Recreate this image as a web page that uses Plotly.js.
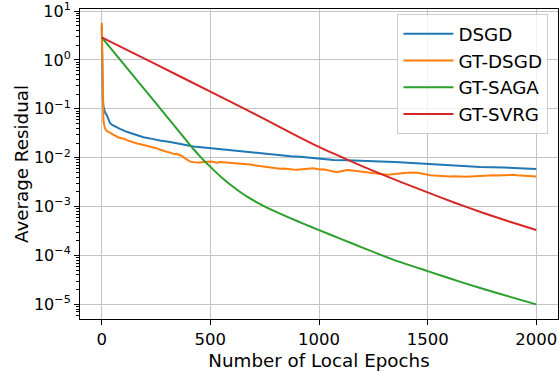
<!DOCTYPE html>
<html>
<head>
<meta charset="utf-8">
<script src="https://cdn.plot.ly/plotly-3.0.1.min.js"></script>
<style>
  html, body { margin: 0; padding: 0; background: #ffffff; }
  #chart { width: 559px; height: 372px; }
</style>
</head>
<body>
<div id="chart"></div>
<script>
// ---- data ----
const seriesNames = ["DSGD", "GT-DSGD", "GT-SAGA", "GT-SVRG"];
const seriesColors = ["#1f77b4", "#ff7f0e", "#2ca02c", "#d62728"];

const dsgdX = [0, 1, 2, 3, 5, 8, 12, 15, 23, 30, 38, 48, 60, 84, 115, 150, 192, 238, 268, 315, 360, 422, 470, 514, 576, 622, 680, 729, 775, 821, 870, 913, 974, 1020, 1067, 1130, 1180, 1230, 1281, 1350, 1435, 1500, 1589, 1650, 1742, 1850, 1920, 2000];
const dsgdY = [5.0, 2.0, 0.6, 0.3, 0.16, 0.112, 0.0933, 0.0851, 0.075, 0.0617, 0.0513, 0.0468, 0.0437, 0.0389, 0.0339, 0.0302, 0.0263, 0.0240, 0.0224, 0.0209, 0.0191, 0.0170, 0.0162, 0.0155, 0.0145, 0.0135, 0.0129, 0.0123, 0.0117, 0.0112, 0.0107, 0.0105, 0.0100, 0.00955, 0.00902, 0.00891, 0.00881, 0.00861, 0.00832, 0.00813, 0.00776, 0.00741, 0.00692, 0.00676, 0.00646, 0.00631, 0.00610, 0.00589];

const gtdsgdX = [0, 1, 2, 3, 5, 8, 11, 15, 22, 30, 38, 48, 60, 75, 90, 102, 115, 128, 140, 150, 162, 175, 192, 205, 218, 230, 243, 255, 268, 280, 292, 305, 315, 325, 335, 345, 355, 363, 372, 382, 391, 400, 407, 418, 430, 440,
  450, 465, 480, 500, 515, 530, 545, 560, 575, 590, 606, 620, 635, 650, 668, 683, 698, 713, 730, 745, 760, 775, 790, 805, 820, 835, 850, 866, 882, 898, 913, 928, 944, 959, 974, 990, 1005, 1020, 1036, 1051, 1067, 1082, 1097, 1113, 1128, 1143, 1159, 1174, 1190, 1205, 1220, 1236, 1251, 1266, 1281, 1297, 1312, 1327, 1343, 1358, 1373, 1389, 1404, 1420, 1435, 1450, 1466, 1481, 1496, 1512, 1527, 1542, 1558, 1573, 1588, 1604, 1619, 1634, 1650, 1665, 1680, 1696, 1711, 1726, 1742, 1757, 1772, 1788, 1803, 1818, 1834, 1849, 1864, 1880, 1895, 1910, 1926, 1941, 1956, 1972, 1987, 2000];
const gtdsgdY = [5.8, 3.0, 0.8, 0.22, 0.12, 0.059, 0.048, 0.0398, 0.0355, 0.0339, 0.0324, 0.0302, 0.0282, 0.0263, 0.0251, 0.0245, 0.0229, 0.0219, 0.0209, 0.0200, 0.0195, 0.0191, 0.0182, 0.0178, 0.0170, 0.0166, 0.0162, 0.0155, 0.0145, 0.0141, 0.0135, 0.0129, 0.0126, 0.0123, 0.01175, 0.0120, 0.0115, 0.0112, 0.0107, 0.00977, 0.00902, 0.00871, 0.00832, 0.00813, 0.00813, 0.00794,
  0.00794, 0.00813, 0.00804, 0.00832, 0.00813, 0.00794, 0.00813, 0.00804, 0.00794, 0.00794, 0.00776, 0.00785, 0.00759, 0.00750, 0.00741, 0.00724, 0.00708, 0.00692, 0.00676, 0.00661, 0.00631, 0.00617, 0.00624, 0.00610, 0.00596, 0.00603, 0.00589, 0.00582, 0.00575, 0.00569, 0.00575, 0.00589, 0.00596, 0.00603, 0.00610, 0.00589, 0.00575, 0.00582, 0.00562, 0.00537, 0.00513, 0.00507, 0.00525, 0.00550, 0.00562, 0.00556, 0.00543, 0.00531, 0.00525, 0.00513, 0.00501, 0.00490, 0.00479, 0.00468, 0.00462, 0.00452, 0.00447, 0.00452, 0.00457, 0.00462, 0.00468, 0.00473, 0.00490, 0.00501, 0.00501, 0.00495, 0.00479, 0.00462, 0.00452, 0.00437, 0.00432, 0.00427, 0.00422, 0.00417, 0.00417, 0.00412, 0.00417, 0.00412, 0.00407, 0.00412, 0.00407, 0.00412, 0.00417, 0.00422, 0.00427, 0.00422, 0.00427, 0.00432, 0.00437, 0.00432, 0.00437, 0.00442, 0.00447, 0.00452, 0.00447, 0.00437, 0.00432, 0.00427, 0.00422, 0.00417, 0.00417, 0.00412];

const gtsagaX = [0, 250, 406, 420, 450, 475, 500, 530, 560, 600, 637, 675, 714, 760, 810, 868, 930, 1000, 1100, 1200, 1350, 1500, 1665, 1819, 2000];
const gtsagaY = [2.9, 0.13, 0.0183, 0.01542, 0.01094, 0.00836, 0.00649, 0.00484, 0.00368, 0.00263, 0.00199, 0.00154, 0.00122, 0.000957, 0.000752, 0.000579, 0.000444, 0.000331, 0.000219, 0.000145, 0.0000794, 0.0000479, 0.0000275, 0.0000170, 0.0000100];

const gtsvrgX = [0, 250, 500, 750, 875, 1000, 1125, 1250, 1375, 1500, 1625, 1750, 1875, 2000];
const gtsvrgY = [2.9, 0.813, 0.225, 0.0617, 0.0316, 0.0166, 0.00933, 0.00537, 0.00320, 0.00195, 0.00120, 0.000759, 0.000495, 0.000331];

const xTickVals = [0, 500, 1000, 1500, 2000];
const yTickVals = [1e-5, 1e-4, 1e-3, 1e-2, 1e-1, 1e0, 1e1];
const yTickText = ["10<sup>−5</sup>", "10<sup>−4</sup>", "10<sup>−3</sup>", "10<sup>−2</sup>", "10<sup>−1</sup>", "10<sup>0</sup>", "10<sup>1</sup>"];
const minorDecades = [1e-6, 1e-5, 1e-4, 1e-3, 1e-2, 1e-1, 1e0];
const minorMultipliers = [2, 3, 4, 5, 6, 7, 8, 9];

// ---- build ----
const xs = [dsgdX, gtdsgdX, gtsagaX, gtsvrgX];
const ys = [dsgdY, gtdsgdY, gtsagaY, gtsvrgY];
const smooth = [false, false, true, true];
const traces = seriesNames.map((name, i) => ({
  type: "scatter",
  mode: "lines",
  name: name,
  x: xs[i],
  y: ys[i],
  line: smooth[i]
    ? { color: seriesColors[i], width: 2, shape: "spline", smoothing: 0.5 }
    : { color: seriesColors[i], width: 2 },
  legendgroup: "g" + i
}));

const yRange = [-5.30, 1.043];
const minorVals = [];
minorDecades.forEach(d => minorMultipliers.forEach(m => {
  const v = d * m;
  const lv = Math.log10(v);
  if (lv > yRange[0] && lv < yRange[1]) minorVals.push(v);
}));

const font = "DejaVu Sans, sans-serif";
const layout = {
  width: 559,
  height: 372,
  margin: { l: 80, r: 1, t: 9, b: 53 },
  paper_bgcolor: "#ffffff",
  plot_bgcolor: "#ffffff",
  font: { family: font, color: "#000000", size: 16 },
  showlegend: true,
  legend: {
    x: 0.98, xanchor: "right",
    y: 0.983, yanchor: "top",
    bgcolor: "rgba(255,255,255,0.8)",
    bordercolor: "#cccccc",
    borderwidth: 1,
    font: { family: font, size: 18.3, color: "#000000" },
    tracegroupgap: 0,
    itemwidth: 50
  },
  xaxis: {
    type: "linear",
    range: [-100, 2100],
    tickmode: "array",
    tickvals: xTickVals,
    ticks: "outside",
    ticklen: 5,
    tickwidth: 1,
    tickcolor: "#000000",
    tickfont: { family: font, size: 16.5, color: "#000000" },
    showgrid: true,
    gridcolor: "#c4c4c4",
    gridwidth: 1,
    zeroline: false,
    showline: true,
    linecolor: "#000000",
    linewidth: 1,
    mirror: true,
    title: { text: "Number of Local Epochs", font: { family: font, size: 18.3, color: "#000000" }, standoff: 6 }
  },
  yaxis: {
    type: "log",
    range: yRange,
    tickmode: "array",
    tickvals: yTickVals,
    ticktext: yTickText,
    ticklabeloverflow: "allow",
    ticks: "outside",
    ticklen: 5,
    tickwidth: 1,
    tickcolor: "#000000",
    tickfont: { family: font, size: 16, color: "#000000" },
    showgrid: true,
    gridcolor: "#c4c4c4",
    gridwidth: 1,
    zeroline: false,
    showline: true,
    linecolor: "#000000",
    linewidth: 1,
    mirror: true,
    minor: {
      tickmode: "array",
      tickvals: minorVals,
      ticks: "outside",
      ticklen: 3,
      tickwidth: 1,
      tickcolor: "#000000",
      showgrid: false
    },
    title: { text: "Average Residual", font: { family: font, size: 18.3, color: "#000000" }, standoff: 0 }
  }
};

Plotly.newPlot("chart", traces, layout, { staticPlot: true, displayModeBar: false });
</script>
</body>
</html>
